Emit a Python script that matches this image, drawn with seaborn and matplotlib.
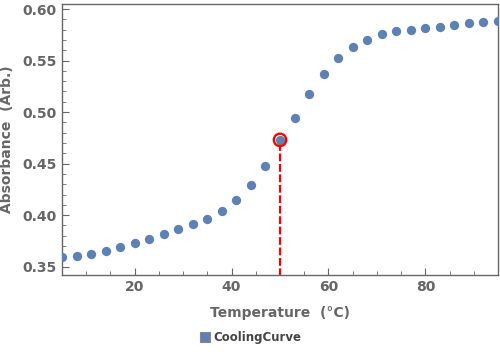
import numpy as np
import pandas as pd
import seaborn as sb
import matplotlib.pyplot as plt
from matplotlib.lines import Line2D
from matplotlib.ticker import MultipleLocator

temperature = list(range(5, 96, 3))
absorbance = [0.3597, 0.3604, 0.3626, 0.3655, 0.3694, 0.3733, 0.3772, 0.3820,
              0.3869, 0.3917, 0.3966, 0.4044, 0.4150, 0.4296, 0.4480, 0.4730,
              0.4947, 0.5180, 0.5374, 0.5529, 0.5636, 0.5704, 0.5753, 0.5782,
              0.5801, 0.5820, 0.5830, 0.5847, 0.5860, 0.5870, 0.5880]
melt_t = 50
melt_a = 0.4730

data = pd.DataFrame({'Temperature': temperature, 'Absorbance': absorbance})

sb.set_style('ticks')
plt.rcParams['font.family'] = ['DejaVu Sans']
plt.rcParams['font.weight'] = 'bold'

blue = '#5E81B5'
grey = '#666666'

fi = plt.figure(figsize=(5.0, 3.52), dpi=100)
ax = fi.add_axes([0.124, 0.219, 0.872, 0.770])

sb.scatterplot(  x='Temperature'
               , y='Absorbance'
               , data=data
               , color=blue
               , s=45
               , linewidth=0
               , ax=ax
               , clip_on=True
               , zorder=3
              )

ax.plot([melt_t, melt_t], [0.3, melt_a], color='red', linestyle=(0, (3.5, 1.2)),
        linewidth=1.6, zorder=2)
ax.scatter([melt_t], [melt_a], s=80, facecolor='none', edgecolor='red',
           linewidth=1.7, zorder=4)

ax.set_xlim(5, 95)
ax.set_ylim(0.342, 0.605)
ax.xaxis.set_major_locator(MultipleLocator(20))
ax.xaxis.set_minor_locator(MultipleLocator(5))
ax.yaxis.set_major_locator(MultipleLocator(0.05))
ax.yaxis.set_minor_locator(MultipleLocator(0.01))
ax.yaxis.set_major_formatter(plt.FuncFormatter(lambda v, p: f'{v:.2f}'))

ax.tick_params(which='major', direction='in', length=5, width=0.8, color=grey,
               labelsize=10, labelcolor=grey, pad=4)
ax.tick_params(which='minor', direction='in', length=3, width=0.6, color=grey)

for s in ax.spines.values():
    s.set_color(grey)
    s.set_linewidth(1.0)

ax.set_xlabel('Temperature  (°C)', fontsize=10, color=grey, fontweight='bold', labelpad=8)
ax.set_ylabel('Absorbance  (Arb.)', fontsize=10, color=grey, fontweight='bold', labelpad=6)

handle = Line2D([], [], marker='s', linestyle='none', markersize=7,
                markerfacecolor=blue, markeredgecolor='#888888', markeredgewidth=0.8)
fi.legend([handle], ['CoolingCurve'], loc='center', bbox_to_anchor=(0.5, 0.042),
          frameon=False, fontsize=8.5, handletextpad=0.2, handlelength=1.0,
          labelcolor='#444444')

plt.savefig('out.png', dpi=100)
plt.close()
